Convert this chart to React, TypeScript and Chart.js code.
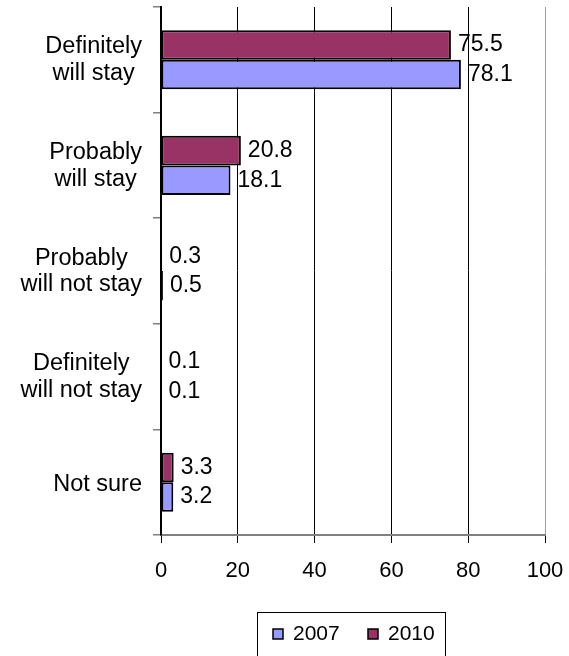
import React, { useEffect, useRef } from 'react';
import { Chart, registerables } from 'chart.js';

Chart.register(...registerables);

// ---- data ----
const categories: string[][] = [
  ['Definitely', 'will stay'],
  ['Probably', 'will stay'],
  ['Probably', 'will not stay'],
  ['Definitely', 'will not stay'],
  ['Not sure'],
];
const values2007 = [78.1, 18.1, 0.5, 0.1, 3.2];
const values2010 = [75.5, 20.8, 0.3, 0.1, 3.3];
const xTicks = [0, 20, 40, 60, 80, 100];
const seriesNames = ['2007', '2010'];

// ---- styles ----
const COLOR_2007 = '#9999FF';
const COLOR_2010 = '#993366';
const FONT_FAMILY = '"Liberation Sans", Arial, sans-serif';
const CAT_FONT_SIZE = 23.5;
const VALUE_FONT_SIZE = 23;
const TICK_FONT_SIZE = 22;
const LEGEND_FONT_SIZE = 21;

const yLabelPlugin = {
  id: 'yLabels',
  afterDraw(chart: any) {
    const ctx = chart.ctx;
    const y = chart.scales.y;
    ctx.save();
    ctx.font = `${CAT_FONT_SIZE}px ${FONT_FAMILY}`;
    ctx.fillStyle = '#000';
    ctx.textAlign = 'center';
    ctx.textBaseline = 'alphabetic';
    const lh = 26.7;
    const capH = 0.716 * CAT_FONT_SIZE;
    const rightEdge = y.right - 19;
    (chart.data.labels as any[]).forEach((lab, i) => {
      const lines: string[] = Array.isArray(lab) ? lab : [lab];
      const widest = Math.max(...lines.map((l) => ctx.measureText(l).width));
      const cx = rightEdge - widest / 2;
      const cy = y.getPixelForTick(i);
      lines.forEach((l, j) => {
        const by = cy + (j - (lines.length - 1) / 2) * lh + capH / 2 - (lines.length > 1 ? 1.5 : 0);
        ctx.fillText(l, cx, by);
      });
    });
    ctx.restore();
  },
};

const valueLabelPlugin = {
  id: 'valueLabels',
  afterDatasetsDraw(chart: any) {
    const ctx = chart.ctx;
    ctx.save();
    ctx.font = `${VALUE_FONT_SIZE}px ${FONT_FAMILY}`;
    ctx.fillStyle = '#000';
    ctx.textAlign = 'left';
    ctx.textBaseline = 'middle';
    chart.data.datasets.forEach((ds: any, di: number) => {
      const meta = chart.getDatasetMeta(di);
      meta.data.forEach((el: any, i: number) => {
        const v = ds.data[i];
        ctx.fillText(Number(v).toFixed(1), el.x + 7, el.y);
      });
    });
    ctx.restore();
  },
};

const legendPlugin = {
  id: 'boxLegend',
  afterDraw(chart: any) {
    const ctx = chart.ctx;
    const area = chart.chartArea;
    ctx.save();
    ctx.font = `${LEGEND_FONT_SIZE}px ${FONT_FAMILY}`;
    const items = [
      { label: seriesNames[0], color: COLOR_2007 },
      { label: seriesNames[1], color: COLOR_2010 },
    ];
    const sq = 10;
    const padL = 15;
    const padR = 12;
    const gapSqText = 10;
    const gapItems = 28;
    const widths = items.map((it) => ctx.measureText(it.label).width);
    let total = padL + padR;
    items.forEach((_, i) => {
      total += sq + gapSqText + widths[i];
      if (i < items.length - 1) total += gapItems;
    });
    total = Math.round(total);
    const cxCenter = (area.left + area.right) / 2 - 2;
    const left = Math.round(cxCenter - total / 2) + 0.5;
    const top = 612.5;
    const textY = 634;
    ctx.strokeStyle = '#000';
    ctx.lineWidth = 1;
    ctx.strokeRect(left, top, total, 60);
    let x = Math.round(left + padL);
    items.forEach((it, i) => {
      const sy = Math.round(textY - sq / 2);
      ctx.fillStyle = it.color;
      ctx.fillRect(x, sy, sq, sq);
      ctx.lineWidth = 1.5;
      ctx.strokeStyle = '#000';
      ctx.strokeRect(x, sy, sq, sq);
      x += sq + gapSqText;
      ctx.fillStyle = '#000';
      ctx.textAlign = 'left';
      ctx.textBaseline = 'middle';
      ctx.fillText(it.label, x, textY);
      x += Math.round(widths[i]) + gapItems;
    });
    ctx.restore();
  },
};

export default function App() {
  const canvasRef = useRef<HTMLCanvasElement | null>(null);

  useEffect(() => {
    document.body.style.margin = '0';
    const canvas = canvasRef.current;
    if (!canvas) return;
    const chart = new Chart(canvas, {
      type: 'bar',
      data: {
        labels: categories as any,
        datasets: [
          {
            label: seriesNames[1],
            data: values2010,
            backgroundColor: COLOR_2010,
            borderColor: '#000',
            borderWidth: 2,
            borderSkipped: false,
            categoryPercentage: 0.56,
            barPercentage: 1.0,
          },
          {
            label: seriesNames[0],
            data: values2007,
            backgroundColor: COLOR_2007,
            borderColor: '#000',
            borderWidth: 2,
            borderSkipped: false,
            categoryPercentage: 0.56,
            barPercentage: 1.0,
          },
        ],
      },
      options: {
        indexAxis: 'y',
        responsive: false,
        devicePixelRatio: 1,
        animation: false,
        layout: { padding: { left: 0, top: 7, right: 24, bottom: 0 } },
        plugins: {
          legend: { display: false },
          tooltip: { enabled: false },
        },
        scales: {
          x: {
            type: 'linear',
            min: xTicks[0],
            max: xTicks[xTicks.length - 1],
            afterBuildTicks: (s: any) => {
              s.ticks = xTicks.map((v) => ({ value: v }));
            },
            afterFit: (s: any) => {
              s.height = 656 - 535;
              s.paddingLeft = 0;
              s.paddingRight = 0;
            },
            ticks: {
              color: '#000',
              font: { family: FONT_FAMILY, size: TICK_FONT_SIZE },
              padding: 15,
              maxRotation: 0,
            },
            grid: {
              color: (c: any) => (c.tick && c.tick.value === 100 ? '#a0a0a0' : '#000'),
              tickColor: '#000',
              tickLength: 8,
              lineWidth: 1,
            },
            border: { color: '#808080', width: 2 },
          },
          y: {
            type: 'category',
            offset: true,
            afterFit: (s: any) => {
              s.width = 161;
            },
            ticks: { display: false },
            grid: {
              offset: true,
              drawOnChartArea: false,
              drawTicks: true,
              tickLength: 8,
              tickColor: '#808080',
              lineWidth: 1.5,
            },
            border: { color: '#000', width: 2 },
          },
        },
      } as any,
      plugins: [valueLabelPlugin, yLabelPlugin, legendPlugin],
    });
    return () => chart.destroy();
  }, []);

  return (
    <div style={{ position: 'absolute', left: 0, top: 0, width: 569, height: 656 }}>
      <canvas ref={canvasRef} width={569} height={656} style={{ display: 'block', width: 569, height: 656 }} />
    </div>
  );
}
